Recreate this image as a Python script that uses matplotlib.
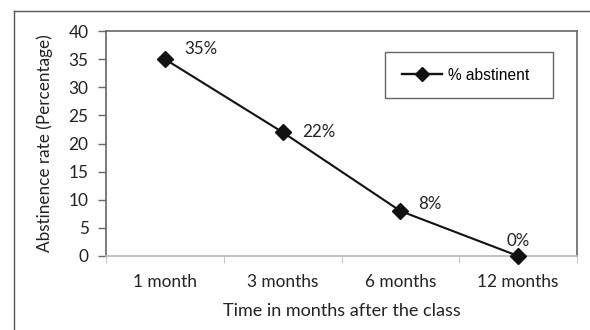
import matplotlib
matplotlib.use("Agg")
import matplotlib.pyplot as plt
from matplotlib.lines import Line2D
from matplotlib.patches import Rectangle

categories = ["1 month", "3 months", "6 months", "12 months"]
abstinent = [35, 22, 8, 0]
value_labels = ["35%", "22%", "8%", "0%"]
y_ticks = [0, 5, 10, 15, 20, 25, 30, 35, 40]

plt.rcParams["font.family"] = ["Lato", "DejaVu Sans"]

fig = plt.figure(figsize=(5.9, 3.3), dpi=100)
W, H = 590, 330
ax = fig.add_axes([106 / W, 1 - 256 / H, (577 - 106) / W, (256 - 31) / H])

x = list(range(len(categories)))
ax.plot(x, abstinent, color="#111111", lw=1.5, marker="D", ms=8,
        markerfacecolor="#111111", markeredgecolor="#111111",
        label="% abstinent", clip_on=False, zorder=3)

# value labels: (dx, dy) offsets in points
offsets = [(14, 7), (14, 0), (13, 5), (0, 11)]
for xi, yi, lab, (dx, dy) in zip(x, abstinent, value_labels, offsets):
    ax.annotate(lab, (xi, yi), xytext=(dx, dy), textcoords="offset points",
                fontsize=12.2, color="#222222",
                ha="left" if dx else "center", va="center")

ax.set_xlim(-0.5, len(categories) - 0.5)
ax.set_ylim(0, 40)
ax.set_yticks(y_ticks)
ax.set_xticks(x)
ax.set_xticklabels(categories)
ax.set_xticks([i - 0.5 for i in range(len(categories) + 1)], minor=True)
ax.tick_params(axis="x", which="major", length=0, pad=13, labelsize=12.4,
               colors="#222222")
ax.tick_params(axis="x", which="minor", length=5, color="#bbbbbb",
               direction="out")
ax.tick_params(axis="y", length=5.5, width=1.0, color="#666666",
               labelsize=12.4, labelcolor="#222222", pad=7)

for side in ["top", "right", "left"]:
    ax.spines[side].set_color("#666666")
    ax.spines[side].set_linewidth(1.2)
ax.spines["bottom"].set_color("#bbbbbb")
ax.spines["bottom"].set_linewidth(1.3)

ax.set_ylabel("Abstinence rate (Percentage)", fontsize=12.3, color="#222222",
              labelpad=11)
ax.set_xlabel("Time in months after the class", fontsize=13,
              color="#222222", labelpad=9)

# legend with a fixed-size box
handle = Line2D([], [], color="#111111", lw=1.7, marker="D", ms=7)
leg = ax.legend([handle], ["% abstinent"], loc="center left",
                bbox_to_anchor=((402 - 106) / (577 - 106), 1 - (75 - 31) / (256 - 31)),
                frameon=False, borderpad=0.0, borderaxespad=0.0,
                handlelength=2.6, handletextpad=0.35,
                prop={"family": "Liberation Sans", "size": 11.2})
fig.add_artist(Rectangle((385 / W, 1 - 98 / H), (553 - 385) / W, (98 - 52) / H,
                         transform=fig.transFigure, fill=False,
                         edgecolor="#666666", lw=1.0))

# outer chart frame
fig.add_artist(Line2D([14 / W, 14 / W], [0, 1 - 11 / H], color="#555555",
                      lw=1.0, transform=fig.transFigure))
fig.add_artist(Line2D([14 / W, 1], [1 - 11 / H, 1 - 11 / H], color="#555555",
                      lw=1.0, transform=fig.transFigure))

fig.savefig("out.png", dpi=100)
